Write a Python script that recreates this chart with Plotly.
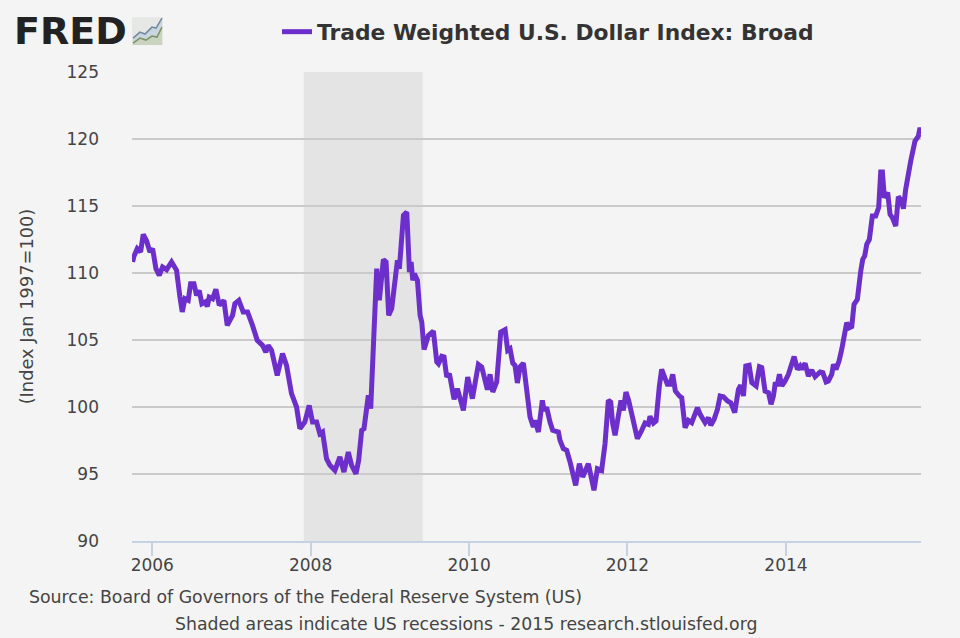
import datetime as dt
import plotly.graph_objects as go

years = [
2005.767,2005.784,2005.826,2005.869,2005.902,2005.945,2005.987,2006.021,2006.063,2006.105,2006.147,2006.198,2006.261,2006.324,2006.367,2006.396,2006.430,2006.472,2006.502,2006.544,2006.578,2006.611,2006.645,2006.687,2006.713,2006.738,2006.780,2006.822,2006.865,2006.924,2006.966,
2007.033,2007.063,2007.113,2007.168,2007.223,2007.286,2007.346,2007.413,2007.455,2007.485,2007.527,2007.599,2007.666,2007.717,2007.780,2007.844,2007.886,2007.949,
2008.004,2008.046,2008.097,2008.139,2008.173,2008.223,2008.266,2008.329,2008.392,2008.443,2008.498,2008.540,2008.595,2008.629,2008.667,2008.696,2008.751,2008.781,2008.806,2008.857,2008.890,2008.941,2008.975,
2009.008,2009.046,2009.101,2009.119,2009.143,2009.195,2009.237,2009.271,2009.292,2009.313,2009.334,2009.372,2009.406,2009.427,2009.456,2009.511,2009.574,2009.617,2009.638,2009.680,2009.709,2009.743,2009.777,2009.807,2009.836,2009.878,2009.912,2009.954,
2010.009,2010.068,2010.144,2010.186,2010.258,2010.292,2010.326,2010.376,2010.427,2010.482,2010.515,2010.545,2010.579,2010.608,2010.638,2010.672,2010.714,2010.756,2010.798,2010.840,2010.862,2010.904,2010.925,2010.954,2010.975,
2011.009,2011.051,2011.085,2011.157,2011.178,2011.220,2011.262,2011.305,2011.376,2011.423,2011.465,2011.537,2011.566,2011.608,2011.651,2011.705,2011.748,2011.790,2011.820,2011.845,2011.875,2011.929,2011.950,2011.980,
2012.013,2012.047,2012.106,2012.157,2012.212,2012.254,2012.296,2012.317,2012.360,2012.393,2012.435,2012.464,2012.536,2012.570,2012.604,2012.637,2012.688,2012.717,2012.760,2012.802,2012.844,2012.916,2012.950,
2013.013,2013.055,2013.085,2013.127,2013.169,2013.203,2013.245,2013.296,2013.338,2013.388,2013.435,2013.464,2013.498,2013.528,2013.570,2013.604,2013.659,2013.701,2013.730,2013.772,2013.815,2013.848,2013.878,2013.899,2013.929,2013.954,2013.984,
2014.026,2014.068,2014.140,2014.182,2014.216,2014.237,2014.279,2014.321,2014.363,2014.406,2014.469,2014.503,2014.545,2014.574,2014.617,2014.638,2014.671,2014.709,2014.743,2014.798,2014.806,2014.840,2014.870,2014.899,2014.941,2014.984,
2015.009,2015.034,2015.060,2015.093,2015.131,2015.173,2015.211,2015.237,2015.258,2015.283,2015.325,2015.355,2015.384,2015.427,2015.460,2015.502,2015.524,2015.553,2015.587,2015.617,2015.671,2015.714,2015.735,2015.743,
]
index_values = [
110.82,111.24,111.82,111.57,112.89,112.39,111.57,111.82,110.32,109.83,110.45,110.25,110.82,110.20,108.20,107.09,108.08,107.96,109.20,109.20,108.33,108.70,107.71,107.84,107.51,108.20,108.08,108.78,107.59,107.96,106.09,
106.84,107.71,107.96,107.09,107.09,106.09,104.98,104.60,104.10,104.60,104.23,102.36,103.98,103.11,101.00,100.00,98.38,98.88,
100.12,98.88,98.88,98.00,98.13,96.14,95.65,95.27,96.27,95.15,96.64,95.65,95.02,96.02,98.26,98.38,100.87,99.88,102.74,110.32,107.96,111.00,110.82,
106.84,107.34,110.45,110.95,110.32,114.30,114.55,110.07,110.82,109.45,109.95,109.45,106.84,106.34,104.28,105.35,105.67,103.36,103.23,103.78,103.73,102.24,102.49,101.24,100.57,101.37,100.50,99.75,
102.24,100.62,103.18,102.99,101.29,102.44,101.12,101.87,105.60,105.77,104.23,104.35,103.28,103.10,101.79,102.99,103.28,101.49,99.25,98.51,99.00,98.13,99.38,100.50,99.75,
99.95,98.88,98.26,98.13,97.51,96.89,96.77,95.90,94.15,95.77,94.78,95.77,95.02,93.78,95.40,95.27,97.26,100.50,100.37,98.76,97.89,99.50,100.50,99.75,
101.12,100.50,99.00,97.64,98.26,98.80,98.70,99.30,98.80,98.96,101.57,102.81,101.69,101.69,102.44,101.19,100.82,100.70,98.46,99.00,98.83,99.95,99.45,
98.83,99.20,98.63,99.08,99.83,100.82,100.77,100.45,100.32,99.58,101.32,101.62,100.82,103.06,103.11,101.82,101.57,103.01,102.94,101.19,101.07,100.20,100.82,101.69,101.69,102.44,101.57,
101.94,102.44,103.76,102.81,103.06,102.81,103.26,102.31,102.76,102.26,102.61,102.56,101.87,101.94,102.44,103.18,102.81,103.43,104.30,105.92,106.29,105.92,106.00,107.66,108.03,110.15,
111.02,111.27,112.14,112.51,114.25,114.25,114.88,117.54,117.54,115.62,116.00,114.38,114.13,113.50,115.70,115.37,114.80,116.24,117.61,118.36,119.85,120.22,120.85,120.35,
]
x_ticks = ["2006-01-01", "2008-01-01", "2010-01-01", "2012-01-01", "2014-01-01"]
x_tick_labels = ["2006", "2008", "2010", "2012", "2014"]
y_ticks = [90, 95, 100, 105, 110, 115, 120, 125]
recession = ["2007-12-01", "2009-06-01"]
x_range = [2005.744, 2015.706]
series_name = "Trade Weighted U.S. Dollar Index: Broad"
y_title = "(Index Jan 1997=100)"
source_text = "Source: Board of Governors of the Federal Reserve System (US)"
note_text = "Shaded areas indicate US recessions - 2015 research.stlouisfed.org"

PURPLE = "#6C2FCB"
BG = "#F4F4F4"
FONT = "DejaVu Sans"
W, H = 960, 638
L, R, T, B = 132, 921, 71, 541


def to_date(y):
    yr = int(y)
    start = dt.datetime(yr, 1, 1)
    return start + (dt.datetime(yr + 1, 1, 1) - start) * (y - yr)


def calibrated(y):
    # small scale correction of the readings to the ticks of the axis
    return 2006 + (79 * (y - 2006) - 1.3) / 79.2


dates = [to_date(calibrated(y)) for y in years]
fig = go.Figure(go.Scatter(x=dates, y=index_values, mode="lines", name=series_name,
                           line=dict(color=PURPLE, width=5, shape="linear"), showlegend=True))


def px(x):
    return (x - L) / (R - L)


def py(y):
    return (B - y) / (B - T)


def poly(pts, close=False):
    return "M " + " L ".join(f"{px(a):.4f},{py(b):.4f}" for a, b in pts) + (" Z" if close else "")


logo_blue = [(133, 37), (140, 31), (145, 33), (152, 26), (156, 27), (162, 17)]
logo_green = [(133, 42), (140, 37), (146, 39), (152, 35), (157, 36), (162, 26)]
shapes = [
    dict(type="rect", xref="x", yref="paper", x0=recession[0], x1=recession[1], y0=0, y1=1,
         fillcolor="#E4E4E4", line_width=0, layer="below"),
    dict(type="rect", xref="paper", yref="paper", x0=px(132), x1=px(163), y0=py(44), y1=py(16),
         fillcolor="#E6E8E6", line_width=0),
    dict(type="path", xref="paper", yref="paper", path=poly(logo_blue + [(162, 44), (133, 44)], True),
         fillcolor="#C9D6DF", line_width=0),
    dict(type="path", xref="paper", yref="paper", path=poly(logo_green + [(162, 44), (133, 44)], True),
         fillcolor="#C9D3C0", line_width=0),
    dict(type="path", xref="paper", yref="paper", path=poly(logo_blue), line=dict(color="#7288A0", width=1.5)),
    dict(type="path", xref="paper", yref="paper", path=poly(logo_green), line=dict(color="#7C9464", width=1.5)),
]

annotations = [
    dict(text="<b>FRED</b>", x=px(12), y=py(30), xref="paper", yref="paper", xanchor="left", yanchor="middle",
         showarrow=False, font=dict(family=FONT, size=38, color="#222222")),
    dict(text=source_text, x=px(27), y=py(597), xref="paper", yref="paper", xanchor="left", yanchor="middle",
         showarrow=False, font=dict(family=FONT, size=17.35, color="#444444")),
    dict(text=note_text, x=px(173), y=py(624), xref="paper", yref="paper", xanchor="left", yanchor="middle",
         showarrow=False, font=dict(family=FONT, size=17.3, color="#444444")),
]

fig.update_layout(
    width=W, height=H, autosize=False,
    margin=dict(l=L, r=W - R, t=T, b=H - B, pad=0),
    paper_bgcolor=BG, plot_bgcolor=BG,
    font=dict(family=FONT, color="#444444", size=17),
    shapes=shapes, annotations=annotations,
    showlegend=True,
    legend=dict(x=px(277), y=py(32), xanchor="left", yanchor="middle", orientation="h",
                bgcolor="rgba(0,0,0,0)", itemwidth=30,
                font=dict(family=FONT, size=21.8, color="#333333", weight="bold")),
    xaxis=dict(type="date", range=[to_date(x_range[0]), to_date(x_range[1])], tickvals=x_ticks,
               ticktext=x_tick_labels, showgrid=False, zeroline=False, showline=True, linecolor="#C4D2E2",
               linewidth=2, ticks="outside", ticklen=13, tickwidth=1.5, tickcolor="#C4D2E2",
               tickfont=dict(size=17, color="#444444"), ticklabelstandoff=-5),
    yaxis=dict(range=[90, 125], tickvals=y_ticks, gridcolor="#CACACA", gridwidth=2, zeroline=False,
               showline=False, ticks="", tickfont=dict(size=17, color="#444444"), ticklabelstandoff=32,
               title=dict(text=y_title, font=dict(size=17.8, color="#444444"), standoff=28)),
)
fig.write_html("out.html", config={"displayModeBar": False},
               post_script="document.body.style.margin='0';document.body.style.overflow='hidden';")
